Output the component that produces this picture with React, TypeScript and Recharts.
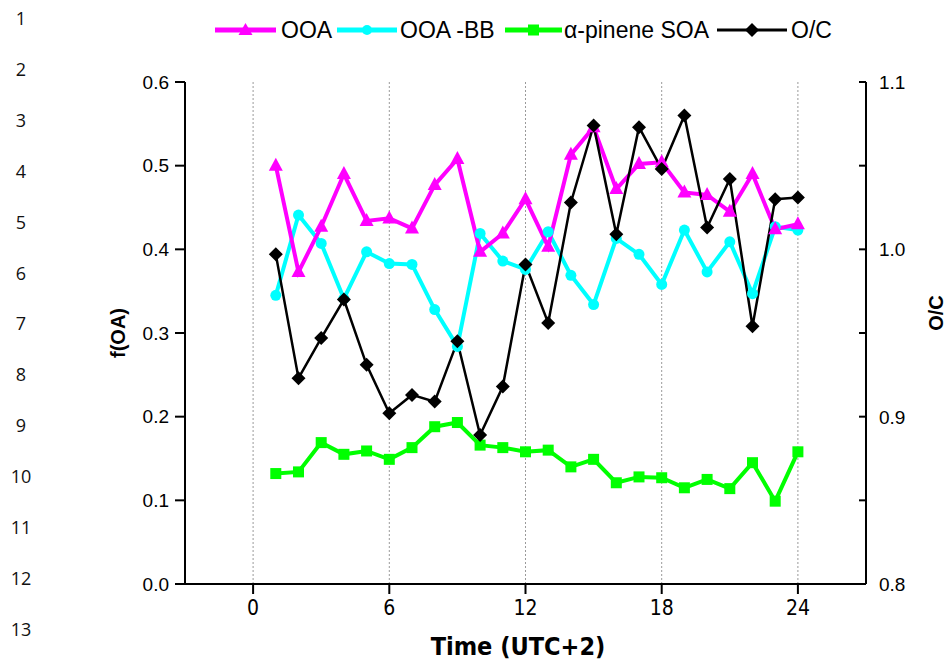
import React from 'react';
import {
    ComposedChart,
    Line,
    XAxis,
    YAxis,
    CartesianGrid,
} from 'recharts';

// hourly data, UTC+2
const hours = [1, 2, 3, 4, 5, 6, 7, 8, 9, 10, 11, 12, 13, 14, 15, 16, 17, 18, 19, 20, 21, 22, 23, 24];
const ooa = [0.500, 0.373, 0.427, 0.490, 0.434, 0.437, 0.425, 0.477, 0.508, 0.397, 0.419, 0.460, 0.403, 0.513, 0.546, 0.472, 0.502, 0.504, 0.468, 0.465, 0.445, 0.490, 0.424, 0.430];
const ooaBB = [0.345, 0.441, 0.407, 0.341, 0.397, 0.383, 0.382, 0.328, 0.284, 0.419, 0.386, 0.376, 0.421, 0.369, 0.334, 0.413, 0.394, 0.358, 0.423, 0.373, 0.409, 0.347, 0.427, 0.423];
const pineneSOA = [0.132, 0.134, 0.169, 0.155, 0.159, 0.149, 0.163, 0.188, 0.193, 0.166, 0.163, 0.158, 0.160, 0.140, 0.149, 0.121, 0.128, 0.127, 0.115, 0.125, 0.114, 0.145, 0.099, 0.158];
const oc = [0.997, 0.923, 0.947, 0.970, 0.931, 0.902, 0.913, 0.909, 0.945, 0.889, 0.918, 0.991, 0.956, 1.028, 1.074, 1.009, 1.073, 1.048, 1.080, 1.013, 1.042, 0.954, 1.030, 1.031];

const xTicks = [0, 6, 12, 18, 24];
const leftTicks = [0, 0.1, 0.2, 0.3, 0.4, 0.5, 0.6];
const rightTicks = [0.8, 0.85, 0.9, 0.95, 1.0, 1.05, 1.1];
const lineNumbers = ['1', '2', '3', '4', '5', '6', '7', '8', '9', '10', '11', '12', '13'];

const data = hours.map((h, i) => ({
    hour: h,
    ooa: ooa[i],
    ooaBB: ooaBB[i],
    pinene: pineneSOA[i],
    oc: oc[i],
}));

const SANS = "'Liberation Sans', Arial, sans-serif";
const NARROW = "'Liberation Sans Narrow', 'Arial Narrow', 'DejaVu Sans Condensed', sans-serif";

const MAGENTA = '#ff00ff';
const CYAN = '#00ffff';
const GREEN = '#00ff00';

const Triangle = (props: any) => {
    const { cx, cy, index } = props;
    if (cx == null || cy == null) return <g key={`t-${index}`} />;
    return <path key={`t-${index}`} d={`M${cx},${cy - 8} L${cx + 7},${cy + 5} L${cx - 7},${cy + 5} Z`} fill={MAGENTA} />;
};

const Circle = (props: any) => {
    const { cx, cy, index } = props;
    if (cx == null || cy == null) return <g key={`c-${index}`} />;
    return <circle key={`c-${index}`} cx={cx} cy={cy} r={5.5} fill={CYAN} />;
};

const Square = (props: any) => {
    const { cx, cy, index } = props;
    if (cx == null || cy == null) return <g key={`s-${index}`} />;
    return <rect key={`s-${index}`} x={cx - 5.5} y={cy - 5.5} width={11} height={11} fill={GREEN} />;
};

const Diamond = (props: any) => {
    const { cx, cy, index } = props;
    if (cx == null || cy == null) return <g key={`d-${index}`} />;
    return <path key={`d-${index}`} d={`M${cx},${cy - 7} L${cx + 7},${cy} L${cx},${cy + 7} L${cx - 7},${cy} Z`} fill="#000" />;
};

// right axis: ticks point inward, labels only on the 0.1 steps
const RightTick = (props: any) => {
    const { x, y, payload } = props;
    const v = payload.value;
    const major = Math.abs(v * 10 - Math.round(v * 10)) < 1e-6;
    return (
        <g>
            <line x1={x - 7} y1={y} x2={x} y2={y} stroke="#000" strokeWidth={2} />
            {major && (
                <text x={x + 13} y={y} dy="0.36em" textAnchor="start" fontFamily={SANS} fontSize={19} fill="#000">
                    {v.toFixed(1)}
                </text>
            )}
        </g>
    );
};

const legendItems = [
    { name: 'OOA', color: MAGENTA, left: 215, width: 61, gap: 5, marker: 'triangle', sw: 5 },
    { name: 'OOA -BB', color: CYAN, left: 337, width: 60, gap: 3, marker: 'circle', sw: 5 },
    { name: 'α-pinene SOA', color: GREEN, left: 505, width: 57, gap: 2, marker: 'square', sw: 5 },
    { name: 'O/C', color: '#000', left: 717, width: 70, gap: 4, marker: 'diamond', sw: 3 },
];

function LegendIcon({ item }: { item: any }) {
    const w = item.width;
    const c = w / 2;
    let m = null;
    if (item.marker === 'triangle') m = <path d={`M${c},3 L${c + 7},15 L${c - 7},15 Z`} fill={item.color} />;
    if (item.marker === 'circle') m = <circle cx={c} cy={10} r={5} fill={item.color} />;
    if (item.marker === 'square') m = <rect x={c - 5.5} y={4.5} width={11} height={11} fill={item.color} />;
    if (item.marker === 'diamond') m = <path d={`M${c},3 L${c + 7},10 L${c},17 L${c - 7},10 Z`} fill={item.color} />;
    return (
        <svg width={w} height={20} style={{ display: 'block' }}>
            <line x1={0} y1={10} x2={w} y2={10} stroke={item.color} strokeWidth={item.sw} />
            {m}
        </svg>
    );
}

export default function App() {
    return (
        <div style={{ position: 'absolute', left: 0, top: 0, width: 952, height: 661, background: '#fff' }}>
            {lineNumbers.map((n, i) => (
                <div
                    key={n}
                    style={{
                        position: 'absolute',
                        left: 0,
                        width: 42,
                        textAlign: 'center',
                        top: 6 + i * 50.9,
                        fontFamily: "'Open Sans', sans-serif",
                        fontSize: 18,
                        color: '#111',
                        lineHeight: '24px',
                    }}
                >
                    {n}
                </div>
            ))}

            {legendItems.map(item => (
                <div
                    key={item.name}
                    style={{ position: 'absolute', left: item.left, top: 16, display: 'flex', alignItems: 'center', height: 28 }}
                >
                    <LegendIcon item={item} />
                    <span style={{ fontFamily: SANS, fontSize: 23, marginLeft: item.gap, color: '#000', whiteSpace: 'nowrap' }}>
                        {item.name}
                    </span>
                </div>
            ))}

            <ComposedChart
                width={952}
                height={661}
                data={data}
                margin={{ top: 82, right: 0, bottom: 0, left: 0 }}
                style={{ position: 'absolute', left: 0, top: 0 }}
            >
                <CartesianGrid horizontal={false} stroke="#9a9a9a" strokeDasharray="2 2" strokeWidth={1} />
                <XAxis
                    dataKey="hour"
                    type="number"
                    domain={[-3, 27]}
                    ticks={xTicks}
                    allowDataOverflow
                    height={77}
                    tickSize={10}
                    tickMargin={6}
                    stroke="#000"
                    strokeWidth={2}
                    tick={{ fill: '#000', fontSize: 21, fontFamily: NARROW }}
                    label={{
                        content: () => (
                            <text
                                x={518}
                                y={646}
                                textAnchor="middle"
                                dominantBaseline="central"
                                fontFamily={NARROW}
                                fontSize={25}
                                fontWeight="bold"
                                fill="#000"
                            >
                                Time (UTC+2)
                            </text>
                        ),
                    }}
                />
                <YAxis
                    yAxisId="left"
                    orientation="left"
                    width={185}
                    domain={[0, 0.6]}
                    ticks={leftTicks}
                    tickFormatter={(v: number) => v.toFixed(1)}
                    tickSize={10}
                    tickMargin={6}
                    stroke="#000"
                    strokeWidth={2}
                    tick={{ fill: '#000', fontSize: 19, fontFamily: SANS }}
                    label={{
                        content: (p: any) => {
                            const vb = p.viewBox;
                            const cy = vb.y + vb.height / 2;
                            return (
                                <text
                                    x={118}
                                    y={cy}
                                    transform={`rotate(-90, 118, ${cy})`}
                                    textAnchor="middle"
                                    dominantBaseline="central"
                                    fontFamily={SANS}
                                    fontSize={20}
                                    fontWeight="bold"
                                    fill="#000"
                                >
                                    f(OA)
                                </text>
                            );
                        },
                    }}
                />
                <YAxis
                    yAxisId="right"
                    orientation="right"
                    width={86}
                    domain={[0.8, 1.1]}
                    ticks={rightTicks}
                    tickSize={0}
                    tickMargin={0}
                    tickLine={false}
                    stroke="#000"
                    strokeWidth={2}
                    tick={<RightTick />}
                    label={{
                        content: (p: any) => {
                            const vb = p.viewBox;
                            const cy = vb.y + vb.height / 2 - 20;
                            return (
                                <text
                                    x={936}
                                    y={cy}
                                    transform={`rotate(-90, 936, ${cy})`}
                                    textAnchor="middle"
                                    dominantBaseline="central"
                                    fontFamily={SANS}
                                    fontSize={20}
                                    fontWeight="bold"
                                    fill="#000"
                                >
                                    O/C
                                </text>
                            );
                        },
                    }}
                />
                <Line
                    yAxisId="left"
                    dataKey="ooaBB"
                    name="OOA -BB"
                    type="linear"
                    stroke={CYAN}
                    strokeWidth={4}
                    dot={Circle}
                    activeDot={false}
                    isAnimationActive={false}
                />
                <Line
                    yAxisId="left"
                    dataKey="ooa"
                    name="OOA"
                    type="linear"
                    stroke={MAGENTA}
                    strokeWidth={4}
                    dot={Triangle}
                    activeDot={false}
                    isAnimationActive={false}
                />
                <Line
                    yAxisId="left"
                    dataKey="pinene"
                    name="α-pinene SOA"
                    type="linear"
                    stroke={GREEN}
                    strokeWidth={4}
                    dot={Square}
                    activeDot={false}
                    isAnimationActive={false}
                />
                <Line
                    yAxisId="right"
                    dataKey="oc"
                    name="O/C"
                    type="linear"
                    stroke="#000"
                    strokeWidth={2.5}
                    dot={Diamond}
                    activeDot={false}
                    isAnimationActive={false}
                />
            </ComposedChart>
        </div>
    );
}
